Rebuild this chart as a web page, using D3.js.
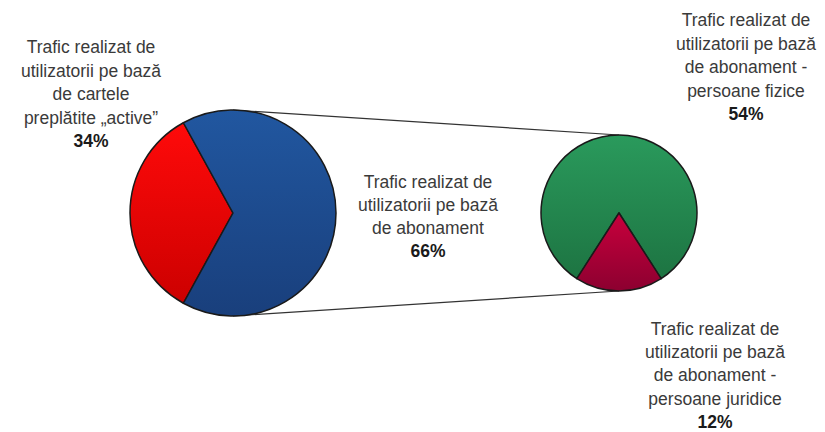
<!DOCTYPE html>
<html><head><meta charset="utf-8">
<script src="https://cdn.jsdelivr.net/npm/d3@7"></script>
<style>body{margin:0;background:#fff}svg{display:block}</style>
</head><body>
<svg id="c" width="825" height="432"></svg>
<script>
const mainCategories = ["Trafic realizat de utilizatorii pe bază de cartele preplătite „active”", "Trafic realizat de utilizatorii pe bază de abonament"];
const mainValues = [34, 66];
const subCategories = ["Trafic realizat de utilizatorii pe bază de abonament - persoane fizice", "Trafic realizat de utilizatorii pe bază de abonament - persoane juridice"];
const subValues = [54, 12];
const mainLabelLines = [
  ["Trafic realizat de", "utilizatorii pe bază", "de cartele", "preplătite „active”"],
  ["Trafic realizat de", "utilizatorii pe bază", "de abonament"]
];
const subLabelLines = [
  ["Trafic realizat de", "utilizatorii pe bază", "de abonament -", "persoane fizice"],
  ["Trafic realizat de", "utilizatorii pe bază", "de abonament -", "persoane juridice"]
];

const svg = d3.select("#c");
const defs = svg.append("defs");
function grad(id, c1, c2) {
  const g = defs.append("linearGradient").attr("id", id).attr("x1", 0).attr("y1", 0).attr("x2", 0).attr("y2", 1);
  g.append("stop").attr("offset", "0%").attr("stop-color", c1);
  g.append("stop").attr("offset", "100%").attr("stop-color", c2);
}
grad("gRed", "#ff0a0a", "#cc0000");
grad("gBlue", "#2157a0", "#193f7c");
grad("gGreen", "#2a9a5c", "#1d7442");
grad("gDark", "#c8003c", "#8c0030");

const c1 = {x: 233, y: 213, r: 103};
const c2 = {x: 619, y: 213, r: 78};

// connector lines
svg.append("g").selectAll("line").data([-1, 1]).join("line")
  .attr("x1", c1.x).attr("y1", d => c1.y + d * c1.r)
  .attr("x2", c2.x).attr("y2", d => c2.y + d * c2.r)
  .attr("stroke", "#333").attr("stroke-width", 1.2);

const totalMain = d3.sum(mainValues);
const pie1 = d3.pie().sort(null).value(d => d)
  .startAngle(1.5 * Math.PI - Math.PI * mainValues[0] / totalMain)
  .endAngle(3.5 * Math.PI - Math.PI * mainValues[0] / totalMain);
const arc1 = d3.arc().innerRadius(0).outerRadius(c1.r);
svg.append("g").attr("transform", `translate(${c1.x},${c1.y})`)
  .selectAll("path").data(pie1(mainValues)).join("path")
  .attr("d", arc1)
  .attr("fill", (d, i) => ["url(#gRed)", "url(#gBlue)"][i])
  .attr("stroke", "#1a1a1a").attr("stroke-width", 1.5).attr("stroke-linejoin", "round");

const totalSub = d3.sum(subValues);
const s0 = Math.PI + Math.PI * subValues[1] / totalSub;
const pie2 = d3.pie().sort(null).value(d => d).startAngle(s0).endAngle(s0 + 2 * Math.PI);
const arc2 = d3.arc().innerRadius(0).outerRadius(c2.r);
svg.append("g").attr("transform", `translate(${c2.x},${c2.y})`)
  .selectAll("path").data(pie2(subValues)).join("path")
  .attr("d", arc2)
  .attr("fill", (d, i) => ["url(#gGreen)", "url(#gDark)"][i])
  .attr("stroke", "#1a1a1a").attr("stroke-width", 1.5).attr("stroke-linejoin", "round");

function label(lines, pct, x, y0, lh) {
  const g = svg.append("g").attr("font-family", "'Liberation Sans', Arial, sans-serif").attr("text-anchor", "middle");
  lines.forEach((t, i) => {
    g.append("text").attr("x", x).attr("y", y0 + i * lh).attr("font-size", 17.5).attr("fill", "#3a3a3a").text(t);
  });
  g.append("text").attr("x", x).attr("y", y0 + lines.length * lh).attr("font-size", 17.5)
    .attr("font-weight", "bold").attr("fill", "#1a1a1a").text(pct + "%");
}
label(mainLabelLines[0], mainValues[0], 91, 53, 23.5);
label(mainLabelLines[1], mainValues[1], 428, 188, 23);
label(subLabelLines[0], subValues[0], 746, 26, 23.5);
label(subLabelLines[1], subValues[1], 715, 335, 23.2);
</script>
</body></html>
